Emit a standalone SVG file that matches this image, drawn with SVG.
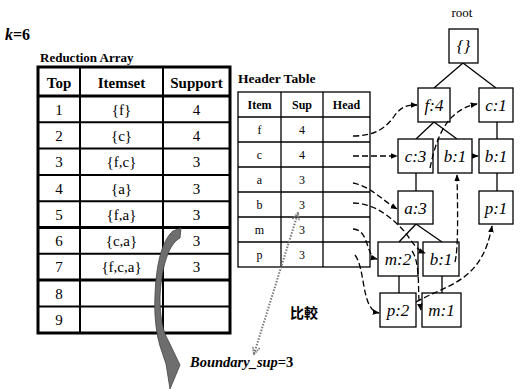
<svg xmlns="http://www.w3.org/2000/svg" width="523" height="389" viewBox="0 0 523 389" font-family="'Liberation Serif', 'Tinos', 'DejaVu Serif', serif">
<defs>
<style>
text{font-family:"Liberation Serif","Tinos","DejaVu Serif",serif}
.t{fill:#000}
.b{font-weight:bold}
.c{text-anchor:middle}
.nb{fill:#fff;stroke:#000;stroke-width:1.3}
.nl{font-style:italic;font-size:17px;text-anchor:middle}
.e{stroke:#000;stroke-width:1.3;fill:none}
.d{stroke:#000;stroke-width:1.3;fill:none;stroke-dasharray:6,3;marker-end:url(#ah)}
.g1{stroke:#000;stroke-width:2;fill:none}
.g3{stroke:#000;stroke-width:3;fill:none}
.h{stroke:#000;stroke-width:1.3;fill:none}
.cjk{font-family:"Noto Sans CJK SC","Noto Sans CJK TC",sans-serif}
</style>
<marker id="ah" viewBox="0 0 10 10" refX="9" refY="5" markerWidth="7" markerHeight="7" orient="auto" markerUnits="userSpaceOnUse"><path d="M0,1 L10,5 L0,9 Z" fill="#000"/></marker>
<marker id="dh" viewBox="0 0 10 10" refX="9" refY="5" markerWidth="9" markerHeight="9" orient="auto-start-reverse" markerUnits="userSpaceOnUse"><path d="M1,1 L9,5 L1,9" fill="none" stroke="#777" stroke-width="2" stroke-dasharray="1.5,1"/></marker>
</defs>
<rect width="523" height="389" fill="#fff"/>

<text class="t b" x="5" y="40" font-size="16"><tspan font-style="italic">k</tspan>=6</text>

<g id="reduction-array">
<text class="t b" x="40" y="62" font-size="13">Reduction Array</text>
<line class="g1" x1="80" y1="67" x2="80" y2="333"/>
<line class="g1" x1="163" y1="67" x2="163" y2="333"/>
<line class="g1" x1="38" y1="122.3" x2="230" y2="122.3"/>
<line class="g1" x1="38" y1="148.6" x2="230" y2="148.6"/>
<line class="g1" x1="38" y1="174.9" x2="230" y2="174.9"/>
<line class="g1" x1="38" y1="201.2" x2="230" y2="201.2"/>
<line class="g3" x1="38" y1="227.5" x2="230" y2="227.5"/>
<line class="g1" x1="38" y1="253.8" x2="230" y2="253.8"/>
<line class="g3" x1="38" y1="280.1" x2="230" y2="280.1"/>
<line class="g1" x1="38" y1="306.4" x2="230" y2="306.4"/>
<line class="g3" x1="38" y1="96" x2="230" y2="96"/>
<rect class="g3" x="38" y="67" width="192" height="266"/>
<g class="t c" font-size="15">
<text class="b" x="59" y="88">Top</text>
<text class="b" x="121.5" y="88">Itemset</text>
<text class="b" x="196.5" y="88">Support</text>
<text x="59" y="115">1</text><text x="121.5" y="115">{f}</text><text x="196.5" y="115">4</text>
<text x="59" y="141">2</text><text x="121.5" y="141">{c}</text><text x="196.5" y="141">4</text>
<text x="59" y="167">3</text><text x="121.5" y="167">{f,c}</text><text x="196.5" y="167">3</text>
<text x="59" y="194">4</text><text x="121.5" y="194">{a}</text><text x="196.5" y="194">3</text>
<text x="59" y="220">5</text><text x="121.5" y="220">{f,a}</text><text x="196.5" y="220">3</text>
<text x="59" y="246">6</text><text x="121.5" y="246">{c,a}</text><text x="196.5" y="246">3</text>
<text x="59" y="272">7</text><text x="121.5" y="272">{f,c,a}</text><text x="196.5" y="272">3</text>
<text x="59" y="299">8</text>
<text x="59" y="325">9</text>
</g>
</g>

<g id="header-table">
<text class="t b" x="238" y="83" font-size="13.5">Header Table</text>
<rect class="h" x="238" y="92" width="132" height="175"/>
<line class="h" x1="281" y1="92" x2="281" y2="267"/>
<line class="h" x1="323" y1="92" x2="323" y2="267"/>
<line class="h" x1="238" y1="117" x2="370" y2="117"/>
<line class="h" x1="238" y1="142" x2="370" y2="142"/>
<line class="h" x1="238" y1="167" x2="370" y2="167"/>
<line class="h" x1="238" y1="192" x2="370" y2="192"/>
<line class="h" x1="238" y1="217" x2="370" y2="217"/>
<line class="h" x1="238" y1="242" x2="370" y2="242"/>
<g class="t c" font-size="12">
<text class="b" x="259.5" y="109">Item</text><text class="b" x="302" y="109">Sup</text><text class="b" x="346.5" y="109">Head</text>
<text x="259.5" y="134">f</text><text x="302" y="134">4</text>
<text x="259.5" y="159">c</text><text x="302" y="159">4</text>
<text x="259.5" y="184">a</text><text x="302" y="184">3</text>
<text x="259.5" y="209">b</text><text x="302" y="209">3</text>
<text x="259.5" y="234">m</text><text x="302" y="234">3</text>
<text x="259.5" y="259">p</text><text x="302" y="259">3</text>
</g>
</g>

<g id="tree-edges">
<line class="e" x1="463" y1="63" x2="434" y2="88"/>
<line class="e" x1="463" y1="63" x2="496" y2="88"/>
<line class="e" x1="434" y1="122" x2="416" y2="139"/>
<line class="e" x1="434" y1="122" x2="457" y2="139"/>
<line class="e" x1="497" y1="122" x2="497" y2="139"/>
<line class="e" x1="416" y1="173" x2="416" y2="191"/>
<line class="e" x1="497" y1="173" x2="497" y2="191"/>
<line class="e" x1="416" y1="224" x2="399" y2="242"/>
<line class="e" x1="416" y1="224" x2="442" y2="242"/>
<line class="e" x1="399" y1="276" x2="399" y2="293"/>
<line class="e" x1="442" y1="276" x2="442" y2="293"/>
</g>

<text class="t c" x="462" y="17" font-size="13">root</text>
<g id="n-root"><rect class="nb" x="449" y="29" width="29" height="34"/><text class="nl" x="463.5" y="52">{}</text></g>
<g id="n-f4"><rect class="nb" x="418" y="88" width="32" height="34"/><text class="nl" x="434" y="111">f:4</text></g>
<g id="n-c1"><rect class="nb" x="479" y="88" width="34" height="34"/><text class="nl" x="496" y="111">c:1</text></g>
<g id="n-c3"><rect class="nb" x="398" y="139" width="35" height="34"/><text class="nl" x="415.5" y="162">c:3</text></g>
<g id="n-b1a"><rect class="nb" x="438" y="139" width="34" height="34"/><text class="nl" x="455" y="162">b:1</text></g>
<g id="n-b1b"><rect class="nb" x="479" y="139" width="34" height="34"/><text class="nl" x="496" y="162">b:1</text></g>
<g id="n-a3"><rect class="nb" x="398" y="191" width="35" height="33"/><text class="nl" x="415.5" y="214">a:3</text></g>
<g id="n-p1"><rect class="nb" x="479" y="191" width="34" height="33"/><text class="nl" x="496" y="214">p:1</text></g>
<g id="n-m2"><rect class="nb" x="378" y="242" width="40" height="34"/><text class="nl" x="398" y="265">m:2</text></g>
<g id="n-b1c"><rect class="nb" x="423" y="242" width="36" height="34"/><text class="nl" x="441" y="265">b:1</text></g>
<g id="n-p2"><rect class="nb" x="380" y="293" width="36" height="34"/><text class="nl" x="398" y="316">p:2</text></g>
<g id="n-m1"><rect class="nb" x="422" y="293" width="39" height="34"/><text class="nl" x="441.5" y="316">m:1</text></g>

<g id="node-links">
<path class="d" d="M353,136 C372,136 385,130 395,115 C402,106 408,105 417,105"/>
<path class="d" d="M353,156 L397,156"/>
<path class="d" d="M430,168 C436,140 445,110 477,104"/>
<path class="d" d="M472,156 L478,156"/>
<path class="d" d="M353,183 C370,186 382,200 397,209"/>
<path class="d" d="M353,203 C375,203 392,218 405,232 C412,242 417,250 425,253"/>
<path class="d" d="M353,229 C370,230 365,256 377,259"/>
<path class="d" d="M355,255 C366,270 361,310 379,313"/>
<path class="d" d="M412,251 C420,262 418,288 419,300 L421,310"/>
<path class="d" d="M416,302 C448,284 482,282 492,226"/>
<path class="d" d="M455,262 C458,250 458,220 457,175"/>
<path d="M254,354 L298,213" fill="none" stroke="#777" stroke-width="2" stroke-dasharray="1.5,1.5" marker-start="url(#dh)" marker-end="url(#dh)"/>
</g>

<path d="M173,231 L181,228 L180,238 C168,244 161,270 160,298 C160,318 163,332 169,342 L180,365 L170,389 L166,364 L160,346 C156,332 154,315 155,295 C156,265 162,240 173,231 Z" fill="#6e6e6e" stroke="#444" stroke-width="0.8"/>

<text class="t b" x="190" y="367" font-size="14.5"><tspan font-style="italic">Boundary_sup</tspan>=3</text>
<text class="cjk" x="290" y="318" font-weight="bold" font-size="14">比較</text>
</svg>
